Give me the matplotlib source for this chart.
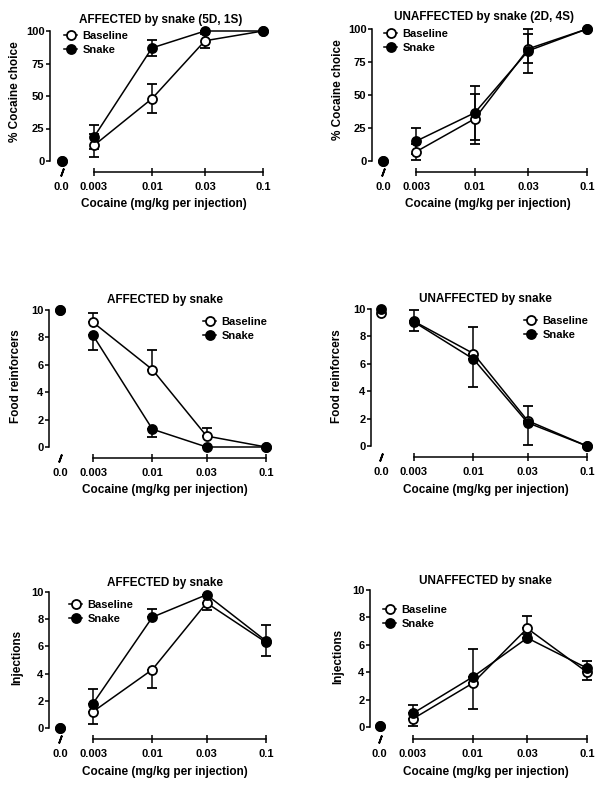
import numpy as np
import matplotlib
matplotlib.use("Agg")
import matplotlib.pyplot as plt
from matplotlib.lines import Line2D

plt.rcParams["font.family"] = ["Liberation Sans", "DejaVu Sans"]
plt.rcParams["font.weight"] = "bold"

W, H = 602, 789

# doses; the first entry of every series is the 0.0 (saline) point
doses = [0.003, 0.01, 0.03, 0.1]
dose_labels = ["0.0", "0.003", "0.01", "0.03", "0.1"]
ZERO_POS = -2.815   # where the 0.0 point sits on the broken log axis

# % cocaine choice (error bars both ways)
choice_aff_base = [0, 12, 48, 92.5, 100]
choice_aff_base_err = [0, 9, 11, 5.5, 0]
choice_aff_snake = [0, 18.5, 87, 100, 100]
choice_aff_snake_err = [0, 9.5, 6, 0, 0]
choice_un_base = [0, 7, 32, 85, 100]
choice_un_base_err = [0, 6, 19, 11, 0]
choice_un_snake = [0, 15, 36.5, 83.5, 100]
choice_un_snake_err = [0, 10, 20.5, 16.5, 0]

# food reinforcers (baseline bars up, snake bars down)
food_aff_base = [10, 9.1, 5.65, 0.8, 0]
food_aff_base_err = [0, 0.65, 1.4, 0.6, 0]
food_aff_snake = [10, 8.15, 1.3, 0, 0]
food_aff_snake_err = [0, 1.05, 0.55, 0, 0]
food_un_base = [9.7, 9.1, 6.75, 1.85, 0]
food_un_base_err = [0, 0.85, 1.95, 1.1, 0]
food_un_snake = [10, 9.05, 6.35, 1.7, 0]
food_un_snake_err = [0, 0.65, 2.05, 1.65, 0]

# injections (baseline bars down, snake bars up)
inj_aff_base = [0, 1.2, 4.3, 9.2, 6.3]
inj_aff_base_err = [0, 0.9, 1.35, 0.5, 1.0]
inj_aff_snake = [0, 1.8, 8.15, 9.8, 6.4]
inj_aff_snake_err = [0, 1.1, 0.6, 0, 1.15]
inj_un_base = [0.1, 0.6, 3.2, 7.2, 4.0]
inj_un_base_err = [0, 0.5, 1.9, 0.4, 0.55]
inj_un_snake = [0.1, 1.0, 3.65, 6.5, 4.3]
inj_un_snake_err = [0, 0.6, 2.05, 1.6, 0.55]


fig = plt.figure(figsize=(W / 100, H / 100), dpi=100)


def place(spine_x, x003, x1, y0, ytop, xaxis_y, ymax):
    # axes positioned in pixel units of the reference
    ppd = (x1 - x003) / (np.log10(0.1) - np.log10(0.003))
    ppu = (y0 - ytop) / ymax
    right = x1 + 6
    top = ytop - 8
    ax = fig.add_axes([spine_x / W, 1 - xaxis_y / H,
                       (right - spine_x) / W, (xaxis_y - top) / H])
    ax.set_xlim(np.log10(0.003) - (x003 - spine_x) / ppd, -1 + 6 / ppd)
    ax.set_ylim(-(xaxis_y - y0) / ppu, ymax + 8 / ppu)
    return ax


def sided(err, side):
    err = np.asarray(err[1:], dtype=float)
    zero = np.zeros_like(err)
    if side == "up":
        return [zero, err]
    if side == "down":
        return [err, zero]
    return [err, err]


def panel(ax, base, base_err, snake, snake_err, sides, ymax, yticks, leg_xy):
    xs = [ZERO_POS] + list(np.log10(doses))
    handles = []
    for vals, errs, side, face, lab in [(base, base_err, sides[0], "white", "Baseline"),
                                        (snake, snake_err, sides[1], "black", "Snake")]:
        ax.errorbar(xs[1:], vals[1:], yerr=sided(errs, side), color="black", lw=1.1,
                    marker="o", ms=6.5, mfc=face, mec="black", mew=1.3,
                    capsize=3.5, capthick=1.1, elinewidth=1.1, clip_on=False)
        ax.plot(xs[0], vals[0], "o", ms=6.5, mfc=face, mec="black", mew=1.3,
                clip_on=False)
        handles.append(Line2D([], [], color="black", lw=1.1, marker="o", ms=6.5,
                              mfc=face, mec="black", mew=1.3, label=lab))
    ax.spines[["top", "right"]].set_visible(False)
    ax.spines["left"].set_bounds(0, ymax)
    ax.spines["bottom"].set_bounds(np.log10(0.003), np.log10(0.1))
    for s in ["left", "bottom"]:
        ax.spines[s].set_linewidth(1.1)
    ax.set_yticks(yticks)
    ax.set_xticks(xs)
    ax.set_xticklabels(dose_labels)
    ax.tick_params(axis="y", direction="out", length=3, width=1.1,
                   labelsize=8, pad=1)
    ax.tick_params(axis="x", direction="inout", length=6, width=1.1,
                   labelsize=8, pad=4)
    ax.xaxis.get_major_ticks()[0].tick1line.set_visible(False)
    for t in ax.get_xticklabels() + ax.get_yticklabels():
        t.set_fontweight("bold")
    # axis break mark under the 0.0 point
    ax.plot(ZERO_POS, ax.get_ylim()[0], marker=(2, 2, -20), ms=6, mew=1.3,
            color="black", clip_on=False)
    ax.legend(handles=handles, loc="upper left",
              bbox_to_anchor=(leg_xy[0] / W, 1 - leg_xy[1] / H),
              bbox_transform=fig.transFigure, frameon=False,
              handlelength=1.2, handletextpad=0.45, labelspacing=0.35,
              borderpad=0, borderaxespad=0, prop={"weight": "bold", "size": 8})


def label(x, y, s, rot=0):
    fig.text(x / W, 1 - y / H, s, ha="center", va="center", rotation=rot,
             fontsize=8.5, fontweight="bold")


xlab = "Cocaine (mg/kg per injection)"
ticks100 = [0, 25, 50, 75, 100]
ticks10 = [0, 2, 4, 6, 8, 10]

ax1 = place(50, 94, 263, 161, 31, 172, 100)
panel(ax1, choice_aff_base, choice_aff_base_err, choice_aff_snake,
      choice_aff_snake_err, ("both", "both"), 100, ticks100, (64, 31))
label(161, 19.5, "AFFECTED by snake (5D, 1S)")
label(164, 204, xlab)
label(15, 92, "% Cocaine choice", 90)

ax2 = place(372, 416, 587, 161, 29, 172, 100)
panel(ax2, choice_un_base, choice_un_base_err, choice_un_snake,
      choice_un_snake_err, ("both", "both"), 100, ticks100, (384, 29))
label(484, 17, "UNAFFECTED by snake (2D, 4S)")
label(488, 204, xlab)
label(338, 90, "% Cocaine choice", 90)

ax3 = place(49, 93, 266, 447, 310, 458, 10)
panel(ax3, food_aff_base, food_aff_base_err, food_aff_snake,
      food_aff_snake_err, ("up", "down"), 10, ticks10, (203, 317))
label(165, 300, "AFFECTED by snake")
label(165, 490, xlab)
label(16, 376, "Food reinforcers", 90)

ax4 = place(371, 414, 587, 446, 309, 457, 10)
panel(ax4, food_un_base, food_un_base_err, food_un_snake,
      food_un_snake_err, ("up", "down"), 10, ticks10, (524, 316))
label(485, 299, "UNAFFECTED by snake")
label(486, 490, xlab)
label(337, 376, "Food reinforcers", 90)

ax5 = place(49, 93, 266, 728, 592, 739, 10)
panel(ax5, inj_aff_base, inj_aff_base_err, inj_aff_snake,
      inj_aff_snake_err, ("down", "up"), 10, ticks10, (69, 600))
label(165, 583, "AFFECTED by snake")
label(165, 772, xlab)
label(17, 657, "Injections", 90)

ax6 = place(370, 413, 587, 727, 590, 739, 10)
panel(ax6, inj_un_base, inj_un_base_err, inj_un_snake,
      inj_un_snake_err, ("down", "up"), 10, ticks10, (383, 605))
label(485, 581, "UNAFFECTED by snake")
label(486, 772, xlab)
label(338, 656, "Injections", 90)

fig.savefig("out.png", dpi=100)
